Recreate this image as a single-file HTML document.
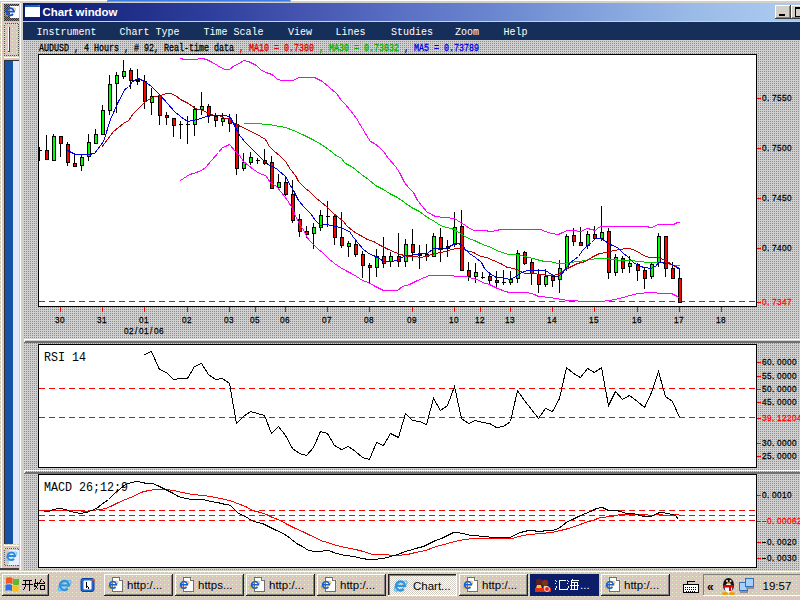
<!DOCTYPE html>
<html><head><meta charset="utf-8"><title>Chart window</title>
<style>
html,body{margin:0;padding:0;width:800px;height:600px;overflow:hidden;background:#c0c0c0}
svg{display:block}
</style></head><body>
<svg width="800" height="600" viewBox="0 0 800 600" shape-rendering="crispEdges" font-family="Liberation Mono, monospace">
<defs>
<pattern id="dg" width="2" height="2" patternUnits="userSpaceOnUse"><rect width="2" height="2" fill="#d0d0d0"/><rect x="0" y="1" width="1" height="1" fill="#8c8c8c"/></pattern>
<pattern id="tb" width="4" height="4" patternUnits="userSpaceOnUse"><rect width="4" height="4" fill="#cdcbc6"/><rect x="0" y="0" width="1" height="1" fill="#f4f0c0"/><rect x="2" y="2" width="1" height="1" fill="#f0c8c8"/></pattern>
<pattern id="pz" width="2" height="2" patternUnits="userSpaceOnUse"><rect width="2" height="2" fill="#ffffff"/><rect x="0" y="0" width="1" height="1" fill="#d4d0c8"/><rect x="1" y="1" width="1" height="1" fill="#d4d0c8"/></pattern>
<pattern id="ck" width="2" height="2" patternUnits="userSpaceOnUse"><rect width="2" height="2" fill="#808080"/><rect x="0" y="0" width="1" height="1" fill="#303030"/><rect x="1" y="1" width="1" height="1" fill="#303030"/></pattern>
<linearGradient id="tg" x1="23" y1="0" x2="775" y2="0" gradientUnits="userSpaceOnUse"><stop offset="0.0000" stop-color="#0a1a6c"/><stop offset="0.1024" stop-color="#1a2a80"/><stop offset="0.2354" stop-color="#2c3c9a"/><stop offset="0.3684" stop-color="#4454b0"/><stop offset="0.5013" stop-color="#5a70c4"/><stop offset="0.6343" stop-color="#6c88d0"/><stop offset="0.7673" stop-color="#84a2dc"/><stop offset="0.9003" stop-color="#9cbce8"/><stop offset="1.0000" stop-color="#a8c8f0"/></linearGradient>
</defs>

<rect x="0" y="0" width="800" height="600" fill="#d2d0c8"/>
<rect x="0" y="0" width="107" height="1" fill="#ffffff"/>
<rect x="0" y="0" width="20" height="570" fill="url(#tb)"/>
<rect x="0" y="0" width="20" height="1" fill="#ffffff"/>
<rect x="2" y="2" width="18" height="1" fill="#ffffff"/><rect x="1" y="2" width="1" height="566" fill="#ffffff"/>
<rect x="4" y="4" width="15" height="17" fill="url(#ck)"/>
<rect x="10" y="6" width="9" height="12" fill="#ffffff"/>
<g transform="translate(4.5,5.5) scale(0.75)" shape-rendering="auto"><ellipse cx="8" cy="8.5" rx="8" ry="3.2" transform="rotate(-35 8 8.5)" fill="none" stroke="#f0c020" stroke-width="1.2"/><path d="M3.2 8.2 H12.6 A4.8 4.8 0 1 0 11.4 11.6" fill="none" stroke="#1a50d0" stroke-width="2.4"/></g>
<rect x="4.5" y="23.5" width="14" height="32" fill="none" stroke="#505050" stroke-width="1" stroke-dasharray="1,1"/>
<rect x="8" y="27" width="1" height="25" fill="#ffffff"/><rect x="9" y="27" width="1" height="25" fill="#404040"/><rect x="8" y="51" width="2" height="1" fill="#404040"/>
<rect x="4" y="57" width="15" height="1" fill="#ffffff"/>
<rect x="5" y="61" width="14" height="483" fill="#e2e8fc"/>
<rect x="5" y="61" width="8" height="483" fill="#1652a6"/>
<rect x="4" y="60" width="15" height="1" fill="#303030"/><rect x="4" y="60" width="1" height="484" fill="#303030"/>
<rect x="4" y="545" width="15" height="1" fill="#ffffff"/>
<rect x="4.5" y="548.5" width="14" height="17" fill="none" stroke="#606060" stroke-dasharray="1,1"/>
<rect x="9" y="550" width="10" height="15" fill="#e8f0ff"/>
<g transform="translate(5,549.5) scale(0.8)" shape-rendering="auto"><ellipse cx="8" cy="8.5" rx="8" ry="3.2" transform="rotate(-35 8 8.5)" fill="none" stroke="#70c0f0" stroke-width="1.2"/><path d="M3.2 8.2 H12.6 A4.8 4.8 0 1 0 11.4 11.6" fill="none" stroke="#2a8ae0" stroke-width="2.4"/></g>
<rect x="0" y="568" width="19" height="2" fill="#404040"/>
<rect x="20" y="0" width="780" height="570" fill="#d4d0c8"/>
<rect x="20" y="0" width="780" height="1" fill="#ffffff"/>
<path d="M107 2 V1 Q107 0 109 0 H289 Q291 0 291 1 V2 Z" fill="#3a7ee6" shape-rendering="auto"/>
<rect x="108" y="1" width="183" height="1" fill="#5aa8f4"/>
<rect x="20" y="3" width="1" height="567" fill="#ffffff"/>
<rect x="23" y="22" width="777" height="548" fill="url(#dg)"/>
<rect x="23" y="3" width="777" height="18" fill="url(#tg)"/>
<rect x="23" y="21" width="777" height="1" fill="#d4d0c8"/>
<rect x="25" y="5" width="15" height="12" fill="#ffffff"/><rect x="25" y="5" width="15" height="2" fill="#2060c0"/><rect x="38" y="5" width="2" height="1" fill="#e06020"/>
<text x="42.5" y="16" font-family="Liberation Sans" font-weight="bold" font-size="11.5" fill="#ffffff" textLength="75" lengthAdjust="spacingAndGlyphs">Chart window</text>
<rect x="775" y="5" width="16" height="14" fill="#d4d0c8"/><rect x="775" y="5" width="15" height="1" fill="#ffffff"/><rect x="775" y="5" width="1" height="13" fill="#ffffff"/><rect x="775" y="18" width="16" height="1" fill="#404040"/><rect x="790" y="5" width="1" height="14" fill="#404040"/><rect x="776" y="17" width="14" height="1" fill="#808080"/><rect x="789" y="6" width="1" height="12" fill="#808080"/><rect x="779" y="14" width="6" height="2" fill="#000"/>
<rect x="791" y="5" width="16" height="14" fill="#d4d0c8"/><rect x="791" y="5" width="15" height="1" fill="#ffffff"/><rect x="791" y="5" width="1" height="13" fill="#ffffff"/><rect x="791" y="18" width="16" height="1" fill="#404040"/><rect x="806" y="5" width="1" height="14" fill="#404040"/><rect x="792" y="17" width="14" height="1" fill="#808080"/><rect x="805" y="6" width="1" height="12" fill="#808080"/><rect x="795" y="7" width="9" height="9" fill="none" stroke="#000" stroke-width="1"/><rect x="795" y="7" width="9" height="2" fill="#000"/>
<rect x="23" y="22" width="777" height="18" fill="#162f5a"/>
<text x="36.5" y="35" font-size="10.5" fill="#ffffff" textLength="60" lengthAdjust="spacingAndGlyphs">Instrument</text>
<text x="119.5" y="35" font-size="10.5" fill="#ffffff" textLength="60" lengthAdjust="spacingAndGlyphs">Chart Type</text>
<text x="203.5" y="35" font-size="10.5" fill="#ffffff" textLength="60" lengthAdjust="spacingAndGlyphs">Time Scale</text>
<text x="288.0" y="35" font-size="10.5" fill="#ffffff" textLength="24" lengthAdjust="spacingAndGlyphs">View</text>
<text x="335.5" y="35" font-size="10.5" fill="#ffffff" textLength="30" lengthAdjust="spacingAndGlyphs">Lines</text>
<text x="391.0" y="35" font-size="10.5" fill="#ffffff" textLength="42" lengthAdjust="spacingAndGlyphs">Studies</text>
<text x="455.0" y="35" font-size="10.5" fill="#ffffff" textLength="24" lengthAdjust="spacingAndGlyphs">Zoom</text>
<text x="503.5" y="35" font-size="10.5" fill="#ffffff" textLength="24" lengthAdjust="spacingAndGlyphs">Help</text>
<text x="39.0" y="50.5" font-size="10.5" fill="#000000" textLength="195" lengthAdjust="spacingAndGlyphs" stroke="#000000" stroke-width="0.3">AUDUSD , 4 Hours , # 92, Real-time data</text>
<text x="234.0" y="50.5" font-size="10.5" fill="#e00000" textLength="80" lengthAdjust="spacingAndGlyphs" stroke="#e00000" stroke-width="0.3"> , MA10 = 0.7380</text>
<text x="314.0" y="50.5" font-size="10.5" fill="#00b000" textLength="85" lengthAdjust="spacingAndGlyphs" stroke="#00b000" stroke-width="0.3"> , MA30 = 0.73832</text>
<text x="399.0" y="50.5" font-size="10.5" fill="#0000e0" textLength="80" lengthAdjust="spacingAndGlyphs" stroke="#0000e0" stroke-width="0.3"> , MA5 = 0.73789</text>
<rect x="38.5" y="54.5" width="718" height="252" fill="#ffffff" stroke="#000000" stroke-width="1"/>
<rect x="38.5" y="344.5" width="718" height="123" fill="#ffffff" stroke="#000000" stroke-width="1"/>
<rect x="38.5" y="474.5" width="718" height="93" fill="#ffffff" stroke="#000000" stroke-width="1"/>
<rect x="24" y="339" width="776" height="1" fill="#ffffff"/>
<rect x="24" y="341" width="776" height="2" fill="#707070"/>
<rect x="24" y="339" width="1" height="3" fill="#ffffff"/>
<rect x="24" y="470" width="776" height="1" fill="#ffffff"/>
<rect x="24" y="472" width="776" height="2" fill="#707070"/>
<rect x="24" y="470" width="1" height="3" fill="#ffffff"/>
<line x1="39" y1="301.5" x2="756" y2="301.5" stroke="#ff0000" stroke-width="1" stroke-dasharray="6,4"/>
<line x1="39" y1="388.5" x2="756" y2="388.5" stroke="#ff0000" stroke-width="1" stroke-dasharray="6,4"/>
<line x1="39" y1="417.5" x2="756" y2="417.5" stroke="#ff0000" stroke-width="1" stroke-dasharray="6,4"/>
<line x1="39" y1="510.5" x2="756" y2="510.5" stroke="#ff0000" stroke-width="1" stroke-dasharray="6,4"/>
<line x1="39" y1="515.5" x2="756" y2="515.5" stroke="#ff0000" stroke-width="1" stroke-dasharray="6,4"/>
<line x1="39" y1="520.5" x2="756" y2="520.5" stroke="#ff0000" stroke-width="1" stroke-dasharray="6,4"/>
<clipPath id="cp1"><rect x="39" y="55" width="717" height="251"/></clipPath>
<g clip-path="url(#cp1)">
<rect x="39" y="147" width="1" height="14" fill="#000"/><rect x="39" y="150" width="3" height="1" fill="#000"/>
<rect x="46" y="135" width="1" height="25" fill="#000"/>
<rect x="45" y="150" width="4" height="10" fill="#000"/>
<rect x="46" y="151" width="2" height="8" fill="#ff0000"/>
<rect x="53" y="134" width="1" height="27" fill="#000"/>
<rect x="52" y="136" width="4" height="25" fill="#000"/>
<rect x="53" y="137" width="2" height="23" fill="#00ff00"/>
<rect x="60" y="136" width="1" height="21" fill="#000"/>
<rect x="59" y="136" width="4" height="8" fill="#000"/>
<rect x="60" y="137" width="2" height="6" fill="#ff0000"/>
<rect x="67" y="142" width="1" height="24" fill="#000"/>
<rect x="66" y="144" width="4" height="19" fill="#000"/>
<rect x="67" y="145" width="2" height="17" fill="#ff0000"/>
<rect x="74" y="154" width="1" height="13" fill="#000"/>
<rect x="73" y="163" width="4" height="4" fill="#000"/>
<rect x="74" y="164" width="2" height="2" fill="#ff0000"/>
<rect x="81" y="155" width="1" height="16" fill="#000"/>
<rect x="80" y="157" width="4" height="9" fill="#000"/>
<rect x="81" y="158" width="2" height="7" fill="#00ff00"/>
<rect x="88" y="134" width="1" height="27" fill="#000"/>
<rect x="87" y="142" width="4" height="15" fill="#000"/>
<rect x="88" y="143" width="2" height="13" fill="#00ff00"/>
<rect x="95" y="129" width="1" height="15" fill="#000"/>
<rect x="94" y="134" width="4" height="10" fill="#000"/>
<rect x="95" y="135" width="2" height="8" fill="#00ff00"/>
<rect x="102" y="105" width="1" height="30" fill="#000"/>
<rect x="101" y="110" width="4" height="25" fill="#000"/>
<rect x="102" y="111" width="2" height="23" fill="#00ff00"/>
<rect x="109" y="75" width="1" height="40" fill="#000"/>
<rect x="108" y="84" width="4" height="27" fill="#000"/>
<rect x="109" y="85" width="2" height="25" fill="#00ff00"/>
<rect x="116" y="72" width="1" height="41" fill="#000"/>
<rect x="115" y="75" width="4" height="9" fill="#000"/>
<rect x="116" y="76" width="2" height="7" fill="#00ff00"/>
<rect x="123" y="60" width="1" height="19" fill="#000"/>
<rect x="122" y="71" width="4" height="6" fill="#000"/>
<rect x="123" y="72" width="2" height="4" fill="#00ff00"/>
<rect x="130" y="68" width="1" height="21" fill="#000"/>
<rect x="129" y="70" width="4" height="11" fill="#000"/>
<rect x="130" y="71" width="2" height="9" fill="#ff0000"/>
<rect x="137" y="69" width="1" height="16" fill="#000"/>
<rect x="136" y="79" width="4" height="1" fill="#000"/>
<rect x="136" y="79" width="4" height="3" fill="#000"/>
<rect x="144" y="75" width="1" height="34" fill="#000"/>
<rect x="143" y="81" width="4" height="21" fill="#000"/>
<rect x="144" y="82" width="2" height="19" fill="#ff0000"/>
<rect x="151" y="88" width="1" height="27" fill="#000"/>
<rect x="150" y="96" width="4" height="7" fill="#000"/>
<rect x="151" y="97" width="2" height="5" fill="#00ff00"/>
<rect x="159" y="94" width="1" height="31" fill="#000"/>
<rect x="158" y="95" width="4" height="21" fill="#000"/>
<rect x="159" y="96" width="2" height="19" fill="#ff0000"/>
<rect x="166" y="112" width="1" height="13" fill="#000"/>
<rect x="165" y="115" width="4" height="3" fill="#000"/>
<rect x="166" y="116" width="2" height="1" fill="#ff0000"/>
<rect x="173" y="118" width="1" height="19" fill="#000"/>
<rect x="172" y="118" width="4" height="8" fill="#000"/>
<rect x="173" y="119" width="2" height="6" fill="#ff0000"/>
<rect x="180" y="121" width="1" height="18" fill="#000"/>
<rect x="179" y="124" width="4" height="1" fill="#000"/>
<rect x="187" y="116" width="1" height="28" fill="#000"/>
<rect x="186" y="124" width="4" height="1" fill="#000"/>
<rect x="194" y="106" width="1" height="30" fill="#000"/>
<rect x="193" y="109" width="4" height="16" fill="#000"/>
<rect x="194" y="110" width="2" height="14" fill="#00ff00"/>
<rect x="201" y="92" width="1" height="23" fill="#000"/>
<rect x="200" y="106" width="4" height="4" fill="#000"/>
<rect x="201" y="107" width="2" height="2" fill="#00ff00"/>
<rect x="208" y="104" width="1" height="19" fill="#000"/>
<rect x="207" y="106" width="4" height="10" fill="#000"/>
<rect x="208" y="107" width="2" height="8" fill="#ff0000"/>
<rect x="215" y="113" width="1" height="14" fill="#000"/>
<rect x="214" y="116" width="4" height="5" fill="#000"/>
<rect x="215" y="117" width="2" height="3" fill="#ff0000"/>
<rect x="222" y="113" width="1" height="13" fill="#000"/>
<rect x="221" y="118" width="4" height="4" fill="#000"/>
<rect x="222" y="119" width="2" height="2" fill="#00ff00"/>
<rect x="229" y="114" width="1" height="18" fill="#000"/>
<rect x="228" y="118" width="4" height="6" fill="#000"/>
<rect x="229" y="119" width="2" height="4" fill="#ff0000"/>
<rect x="236" y="114" width="1" height="61" fill="#000"/>
<rect x="235" y="124" width="4" height="45" fill="#000"/>
<rect x="236" y="125" width="2" height="43" fill="#ff0000"/>
<rect x="243" y="153" width="1" height="18" fill="#000"/>
<rect x="242" y="162" width="4" height="7" fill="#000"/>
<rect x="243" y="163" width="2" height="5" fill="#00ff00"/>
<rect x="250" y="152" width="1" height="13" fill="#000"/>
<rect x="249" y="157" width="4" height="6" fill="#000"/>
<rect x="250" y="158" width="2" height="4" fill="#00ff00"/>
<rect x="257" y="158" width="1" height="6" fill="#000"/>
<rect x="256" y="160" width="4" height="1" fill="#000"/>
<rect x="264" y="149" width="1" height="16" fill="#000"/>
<rect x="263" y="160" width="4" height="4" fill="#000"/>
<rect x="264" y="161" width="2" height="2" fill="#ff0000"/>
<rect x="271" y="156" width="1" height="33" fill="#000"/>
<rect x="270" y="162" width="4" height="27" fill="#000"/>
<rect x="271" y="163" width="2" height="25" fill="#ff0000"/>
<rect x="278" y="174" width="1" height="15" fill="#000"/>
<rect x="277" y="182" width="4" height="6" fill="#000"/>
<rect x="278" y="183" width="2" height="4" fill="#00ff00"/>
<rect x="285" y="176" width="1" height="20" fill="#000"/>
<rect x="284" y="182" width="4" height="13" fill="#000"/>
<rect x="285" y="183" width="2" height="11" fill="#ff0000"/>
<rect x="292" y="180" width="1" height="43" fill="#000"/>
<rect x="291" y="194" width="4" height="27" fill="#000"/>
<rect x="292" y="195" width="2" height="25" fill="#ff0000"/>
<rect x="299" y="214" width="1" height="23" fill="#000"/>
<rect x="298" y="219" width="4" height="13" fill="#000"/>
<rect x="299" y="220" width="2" height="11" fill="#ff0000"/>
<rect x="306" y="226" width="1" height="12" fill="#000"/>
<rect x="305" y="231" width="4" height="4" fill="#000"/>
<rect x="306" y="232" width="2" height="2" fill="#ff0000"/>
<rect x="313" y="223" width="1" height="26" fill="#000"/>
<rect x="312" y="227" width="4" height="7" fill="#000"/>
<rect x="313" y="228" width="2" height="5" fill="#00ff00"/>
<rect x="320" y="210" width="1" height="21" fill="#000"/>
<rect x="319" y="215" width="4" height="13" fill="#000"/>
<rect x="320" y="216" width="2" height="11" fill="#00ff00"/>
<rect x="327" y="201" width="1" height="26" fill="#000"/>
<rect x="326" y="216" width="4" height="1" fill="#000"/>
<rect x="334" y="215" width="1" height="30" fill="#000"/>
<rect x="333" y="216" width="4" height="22" fill="#000"/>
<rect x="334" y="217" width="2" height="20" fill="#ff0000"/>
<rect x="341" y="212" width="1" height="36" fill="#000"/>
<rect x="340" y="237" width="4" height="9" fill="#000"/>
<rect x="341" y="238" width="2" height="7" fill="#ff0000"/>
<rect x="348" y="241" width="1" height="16" fill="#000"/>
<rect x="347" y="243" width="4" height="4" fill="#000"/>
<rect x="348" y="244" width="2" height="2" fill="#00ff00"/>
<rect x="355" y="241" width="1" height="16" fill="#000"/>
<rect x="354" y="244" width="4" height="11" fill="#000"/>
<rect x="355" y="245" width="2" height="9" fill="#ff0000"/>
<rect x="362" y="251" width="1" height="27" fill="#000"/>
<rect x="361" y="254" width="4" height="12" fill="#000"/>
<rect x="362" y="255" width="2" height="10" fill="#ff0000"/>
<rect x="369" y="263" width="1" height="20" fill="#000"/>
<rect x="368" y="265" width="4" height="3" fill="#000"/>
<rect x="369" y="266" width="2" height="1" fill="#ff0000"/>
<rect x="376" y="249" width="1" height="28" fill="#000"/>
<rect x="375" y="256" width="4" height="12" fill="#000"/>
<rect x="376" y="257" width="2" height="10" fill="#00ff00"/>
<rect x="383" y="237" width="1" height="31" fill="#000"/>
<rect x="382" y="256" width="4" height="8" fill="#000"/>
<rect x="383" y="257" width="2" height="6" fill="#ff0000"/>
<rect x="390" y="252" width="1" height="15" fill="#000"/>
<rect x="389" y="256" width="4" height="6" fill="#000"/>
<rect x="390" y="257" width="2" height="4" fill="#00ff00"/>
<rect x="398" y="233" width="1" height="34" fill="#000"/>
<rect x="397" y="256" width="4" height="6" fill="#000"/>
<rect x="398" y="257" width="2" height="4" fill="#ff0000"/>
<rect x="405" y="239" width="1" height="28" fill="#000"/>
<rect x="404" y="244" width="4" height="18" fill="#000"/>
<rect x="405" y="245" width="2" height="16" fill="#00ff00"/>
<rect x="412" y="229" width="1" height="32" fill="#000"/>
<rect x="411" y="244" width="4" height="9" fill="#000"/>
<rect x="412" y="245" width="2" height="7" fill="#ff0000"/>
<rect x="419" y="245" width="1" height="24" fill="#000"/>
<rect x="418" y="253" width="4" height="1" fill="#000"/>
<rect x="418" y="253" width="4" height="3" fill="#000"/>
<rect x="426" y="244" width="1" height="17" fill="#000"/>
<rect x="425" y="254" width="4" height="3" fill="#000"/>
<rect x="426" y="255" width="2" height="1" fill="#ff0000"/>
<rect x="433" y="233" width="1" height="24" fill="#000"/>
<rect x="432" y="236" width="4" height="21" fill="#000"/>
<rect x="433" y="237" width="2" height="19" fill="#00ff00"/>
<rect x="440" y="228" width="1" height="34" fill="#000"/>
<rect x="439" y="237" width="4" height="12" fill="#000"/>
<rect x="440" y="238" width="2" height="10" fill="#ff0000"/>
<rect x="447" y="240" width="1" height="17" fill="#000"/>
<rect x="446" y="246" width="4" height="3" fill="#000"/>
<rect x="447" y="247" width="2" height="1" fill="#00ff00"/>
<rect x="454" y="212" width="1" height="35" fill="#000"/>
<rect x="453" y="227" width="4" height="18" fill="#000"/>
<rect x="454" y="228" width="2" height="16" fill="#00ff00"/>
<rect x="461" y="210" width="1" height="61" fill="#000"/>
<rect x="460" y="226" width="4" height="45" fill="#000"/>
<rect x="461" y="227" width="2" height="43" fill="#ff0000"/>
<rect x="468" y="262" width="1" height="19" fill="#000"/>
<rect x="467" y="270" width="4" height="7" fill="#000"/>
<rect x="468" y="271" width="2" height="5" fill="#ff0000"/>
<rect x="475" y="263" width="1" height="20" fill="#000"/>
<rect x="474" y="272" width="4" height="5" fill="#000"/>
<rect x="475" y="273" width="2" height="3" fill="#00ff00"/>
<rect x="482" y="272" width="1" height="7" fill="#000"/>
<rect x="481" y="277" width="4" height="1" fill="#000"/>
<rect x="489" y="272" width="1" height="13" fill="#000"/>
<rect x="488" y="276" width="4" height="5" fill="#000"/>
<rect x="489" y="277" width="2" height="3" fill="#ff0000"/>
<rect x="496" y="271" width="1" height="18" fill="#000"/>
<rect x="495" y="280" width="4" height="3" fill="#000"/>
<rect x="496" y="281" width="2" height="1" fill="#ff0000"/>
<rect x="503" y="270" width="1" height="15" fill="#000"/>
<rect x="502" y="282" width="4" height="1" fill="#000"/>
<rect x="510" y="271" width="1" height="14" fill="#000"/>
<rect x="509" y="279" width="4" height="4" fill="#000"/>
<rect x="510" y="280" width="2" height="2" fill="#00ff00"/>
<rect x="517" y="250" width="1" height="33" fill="#000"/>
<rect x="516" y="253" width="4" height="26" fill="#000"/>
<rect x="517" y="254" width="2" height="24" fill="#00ff00"/>
<rect x="524" y="251" width="1" height="14" fill="#000"/>
<rect x="523" y="252" width="4" height="12" fill="#000"/>
<rect x="524" y="253" width="2" height="10" fill="#ff0000"/>
<rect x="531" y="258" width="1" height="27" fill="#000"/>
<rect x="530" y="262" width="4" height="12" fill="#000"/>
<rect x="531" y="263" width="2" height="10" fill="#ff0000"/>
<rect x="538" y="269" width="1" height="24" fill="#000"/>
<rect x="537" y="274" width="4" height="11" fill="#000"/>
<rect x="538" y="275" width="2" height="9" fill="#ff0000"/>
<rect x="545" y="269" width="1" height="18" fill="#000"/>
<rect x="544" y="276" width="4" height="9" fill="#000"/>
<rect x="545" y="277" width="2" height="7" fill="#00ff00"/>
<rect x="552" y="274" width="1" height="13" fill="#000"/>
<rect x="551" y="276" width="4" height="5" fill="#000"/>
<rect x="552" y="277" width="2" height="3" fill="#ff0000"/>
<rect x="559" y="260" width="1" height="33" fill="#000"/>
<rect x="558" y="268" width="4" height="12" fill="#000"/>
<rect x="559" y="269" width="2" height="10" fill="#00ff00"/>
<rect x="566" y="234" width="1" height="37" fill="#000"/>
<rect x="565" y="236" width="4" height="33" fill="#000"/>
<rect x="566" y="237" width="2" height="31" fill="#00ff00"/>
<rect x="573" y="228" width="1" height="18" fill="#000"/>
<rect x="572" y="235" width="4" height="7" fill="#000"/>
<rect x="573" y="236" width="2" height="5" fill="#ff0000"/>
<rect x="580" y="227" width="1" height="19" fill="#000"/>
<rect x="579" y="242" width="4" height="4" fill="#000"/>
<rect x="580" y="243" width="2" height="2" fill="#ff0000"/>
<rect x="587" y="231" width="1" height="18" fill="#000"/>
<rect x="586" y="234" width="4" height="12" fill="#000"/>
<rect x="587" y="235" width="2" height="10" fill="#00ff00"/>
<rect x="594" y="226" width="1" height="13" fill="#000"/>
<rect x="593" y="234" width="4" height="5" fill="#000"/>
<rect x="594" y="235" width="2" height="3" fill="#ff0000"/>
<rect x="601" y="206" width="1" height="35" fill="#000"/>
<rect x="600" y="232" width="4" height="7" fill="#000"/>
<rect x="601" y="233" width="2" height="5" fill="#00ff00"/>
<rect x="608" y="228" width="1" height="51" fill="#000"/>
<rect x="607" y="231" width="4" height="42" fill="#000"/>
<rect x="608" y="232" width="2" height="40" fill="#ff0000"/>
<rect x="615" y="254" width="1" height="22" fill="#000"/>
<rect x="614" y="257" width="4" height="16" fill="#000"/>
<rect x="615" y="258" width="2" height="14" fill="#00ff00"/>
<rect x="622" y="256" width="1" height="17" fill="#000"/>
<rect x="621" y="258" width="4" height="11" fill="#000"/>
<rect x="622" y="259" width="2" height="9" fill="#ff0000"/>
<rect x="629" y="256" width="1" height="17" fill="#000"/>
<rect x="628" y="263" width="4" height="4" fill="#000"/>
<rect x="629" y="264" width="2" height="2" fill="#00ff00"/>
<rect x="637" y="263" width="1" height="18" fill="#000"/>
<rect x="636" y="264" width="4" height="7" fill="#000"/>
<rect x="637" y="265" width="2" height="5" fill="#ff0000"/>
<rect x="644" y="268" width="1" height="21" fill="#000"/>
<rect x="643" y="270" width="4" height="9" fill="#000"/>
<rect x="644" y="271" width="2" height="7" fill="#ff0000"/>
<rect x="651" y="262" width="1" height="17" fill="#000"/>
<rect x="650" y="264" width="4" height="13" fill="#000"/>
<rect x="651" y="265" width="2" height="11" fill="#00ff00"/>
<rect x="658" y="233" width="1" height="34" fill="#000"/>
<rect x="657" y="236" width="4" height="27" fill="#000"/>
<rect x="658" y="237" width="2" height="25" fill="#00ff00"/>
<rect x="665" y="236" width="1" height="41" fill="#000"/>
<rect x="664" y="236" width="4" height="33" fill="#000"/>
<rect x="665" y="237" width="2" height="31" fill="#ff0000"/>
<rect x="672" y="262" width="1" height="17" fill="#000"/>
<rect x="671" y="268" width="4" height="11" fill="#000"/>
<rect x="672" y="269" width="2" height="9" fill="#ff0000"/>
<rect x="679" y="268" width="1" height="35" fill="#000"/>
<rect x="678" y="278" width="4" height="25" fill="#000"/>
<rect x="679" y="279" width="2" height="23" fill="#ff0000"/>
</g>
<g clip-path="url(#cp1)" fill="none" stroke-width="1">
<polyline points="180.5,58.5 184.5,59.5 197.5,59.5 198.5,58.5 202.5,58.5 206.5,59.5 212.5,62.5 217.5,65.5 222.5,68.5 225.5,69.5 229.5,69.5 234.5,65.5 239.5,63.5 243.5,60.5 248.5,61.5 256.5,65.5 260.5,69.5 265.5,72.5 269.5,73.5 273.5,75.5 277.5,79.5 282.5,80.5 293.5,80.5 298.5,77.5 314.5,77.5 322.5,81.5 329.5,87.5 336.5,93.5 341.5,100.5 344.5,103.5 350.5,110.5 356.5,118.5 362.5,128.5 368.5,138.5 370.5,141.5 374.5,143.5 379.5,147.5 383.5,151.5 388.5,158.5 395.5,166.5 399.5,172.5 404.5,182.5 408.5,187.5 413.5,192.5 417.5,200.5 422.5,206.5 426.5,211.5 431.5,214.5 435.5,216.5 444.5,217.5 454.5,218.5 457.5,220.5 460.5,222.5 465.5,225.5 469.5,228.5 474.5,230.5 485.5,230.5 489.5,231.5 491.5,231.5 496.5,230.5 500.5,229.5 540.5,229.5 545.5,231.5 551.5,233.5 558.5,234.5 562.5,232.5 567.5,230.5 572.5,230.5 580.5,231.5 587.5,228.5 591.5,229.5 595.5,230.5 598.5,227.5 601.5,226.5 647.5,226.5 649.5,227.5 652.5,227.5 657.5,224.5 673.5,224.5 677.5,222.5 679.5,222.5" stroke="#ff00ff"/>
<polyline points="180.5,180.5 186.5,176.5 189.5,174.5 193.5,173.5 201.5,170.5 205.5,167.5 211.5,160.5 218.5,152.5 222.5,147.5 225.5,146.5 229.5,144.5 230.5,145.5 234.5,150.5 239.5,155.5 243.5,161.5 248.5,165.5 253.5,169.5 259.5,173.5 265.5,175.5 270.5,182.5 276.5,186.5 281.5,192.5 287.5,200.5 292.5,208.5 296.5,218.5 300.5,225.5 304.5,231.5 306.5,236.5 309.5,240.5 313.5,244.5 317.5,248.5 323.5,253.5 328.5,258.5 334.5,263.5 340.5,267.5 345.5,270.5 351.5,273.5 356.5,276.5 362.5,280.5 368.5,282.5 373.5,285.5 379.5,288.5 383.5,290.5 388.5,290.5 397.5,290.5 402.5,286.5 409.5,284.5 417.5,280.5 424.5,277.5 429.5,275.5 435.5,275.5 440.5,275.5 466.5,276.5 472.5,278.5 477.5,279.5 482.5,282.5 489.5,284.5 497.5,288.5 505.5,291.5 509.5,292.5 527.5,292.5 534.5,294.5 538.5,296.5 550.5,297.5 555.5,298.5 568.5,300.5 586.5,301.5 601.5,301.5 615.5,299.5 626.5,296.5 637.5,293.5 650.5,292.5 662.5,293.5 671.5,293.5 677.5,296.5 679.5,298.5" stroke="#ff00ff"/>
<polyline points="243.5,123.5 260.5,123.5 263.5,124.5 268.5,124.5 274.5,125.5 285.5,127.5 293.5,130.5 302.5,134.5 312.5,139.5 321.5,144.5 328.5,149.5 337.5,156.5 340.5,157.5 345.5,163.5 351.5,166.5 355.5,169.5 361.5,174.5 368.5,179.5 375.5,185.5 383.5,189.5 389.5,193.5 397.5,197.5 404.5,202.5 411.5,207.5 419.5,211.5 427.5,217.5 434.5,221.5 440.5,225.5 446.5,227.5 451.5,228.5 457.5,231.5 463.5,235.5 468.5,238.5 474.5,240.5 480.5,243.5 485.5,245.5 491.5,247.5 496.5,250.5 502.5,252.5 508.5,254.5 516.5,254.5 520.5,255.5 529.5,257.5 536.5,259.5 544.5,261.5 549.5,261.5 558.5,263.5 562.5,263.5 569.5,262.5 579.5,261.5 589.5,259.5 598.5,258.5 606.5,258.5 613.5,259.5 622.5,260.5 631.5,260.5 637.5,261.5 649.5,262.5 658.5,262.5 667.5,263.5 673.5,265.5 679.5,265.5" stroke="#00c800"/>
<polyline points="101.5,147.5 113.5,131.5 123.5,123.5 128.5,120.5 133.5,113.5 139.5,107.5 144.5,102.5 150.5,98.5 155.5,96.5 160.5,95.5 166.5,93.5 170.5,93.5 175.5,95.5 180.5,99.5 188.5,103.5 195.5,108.5 202.5,110.5 209.5,113.5 214.5,115.5 218.5,115.5 225.5,118.5 230.5,118.5 233.5,122.5 236.5,124.5 240.5,126.5 245.5,128.5 250.5,131.5 255.5,133.5 260.5,136.5 265.5,139.5 269.5,146.5 274.5,151.5 279.5,155.5 285.5,161.5 290.5,169.5 295.5,175.5 298.5,181.5 304.5,187.5 310.5,192.5 315.5,197.5 321.5,202.5 326.5,206.5 332.5,212.5 338.5,217.5 343.5,221.5 346.5,225.5 353.5,231.5 360.5,235.5 367.5,239.5 373.5,241.5 380.5,245.5 388.5,249.5 395.5,252.5 400.5,254.5 408.5,256.5 415.5,256.5 420.5,257.5 426.5,256.5 431.5,254.5 435.5,253.5 440.5,252.5 446.5,251.5 451.5,249.5 456.5,248.5 460.5,248.5 466.5,250.5 473.5,252.5 480.5,256.5 486.5,257.5 493.5,260.5 500.5,263.5 507.5,267.5 513.5,268.5 519.5,270.5 524.5,273.5 532.5,273.5 540.5,274.5 551.5,275.5 558.5,274.5 563.5,270.5 569.5,267.5 577.5,263.5 585.5,261.5 591.5,257.5 599.5,253.5 606.5,252.5 613.5,250.5 620.5,249.5 625.5,248.5 629.5,248.5 632.5,249.5 637.5,251.5 643.5,255.5 649.5,257.5 658.5,257.5 663.5,259.5 667.5,261.5 672.5,265.5 676.5,266.5 679.5,268.5" stroke="#c00000"/>
<polyline points="67.5,150.5 75.5,154.5 88.5,154.5 94.5,153.5 103.5,141.5 110.5,119.5 118.5,101.5 125.5,88.5 128.5,87.5 132.5,81.5 138.5,78.5 144.5,81.5 151.5,86.5 160.5,95.5 167.5,103.5 174.5,111.5 180.5,116.5 187.5,121.5 192.5,120.5 197.5,119.5 206.5,116.5 213.5,115.5 218.5,115.5 225.5,115.5 230.5,117.5 233.5,123.5 236.5,129.5 240.5,136.5 245.5,142.5 250.5,147.5 255.5,152.5 260.5,157.5 265.5,162.5 269.5,165.5 276.5,168.5 278.5,170.5 285.5,176.5 290.5,185.5 294.5,192.5 298.5,200.5 304.5,207.5 310.5,213.5 315.5,220.5 320.5,225.5 325.5,224.5 331.5,225.5 336.5,226.5 342.5,228.5 349.5,231.5 353.5,237.5 358.5,243.5 362.5,248.5 368.5,253.5 373.5,255.5 379.5,258.5 383.5,261.5 390.5,261.5 397.5,260.5 400.5,258.5 405.5,255.5 410.5,255.5 415.5,254.5 422.5,253.5 427.5,253.5 433.5,248.5 436.5,248.5 440.5,249.5 446.5,248.5 451.5,245.5 455.5,243.5 458.5,243.5 462.5,245.5 465.5,249.5 469.5,253.5 475.5,257.5 481.5,262.5 484.5,268.5 489.5,273.5 496.5,277.5 502.5,277.5 509.5,279.5 514.5,277.5 518.5,274.5 521.5,272.5 527.5,270.5 534.5,270.5 545.5,270.5 551.5,274.5 556.5,276.5 561.5,274.5 564.5,270.5 570.5,262.5 578.5,256.5 582.5,250.5 587.5,245.5 591.5,242.5 595.5,238.5 600.5,238.5 604.5,240.5 609.5,244.5 613.5,245.5 618.5,248.5 622.5,252.5 628.5,257.5 633.5,262.5 639.5,266.5 645.5,267.5 650.5,268.5 655.5,266.5 658.5,262.5 661.5,262.5 665.5,263.5 669.5,263.5 674.5,265.5 679.5,269.5" stroke="#0000e8"/>
</g>
<polyline points="144.5,354.5 151.5,351.5 159.5,369.5 166.5,372.5 173.5,379.5 180.5,378.5 187.5,378.5 194.5,366.5 201.5,363.5 208.5,374.5 215.5,379.5 222.5,378.5 229.5,383.5 236.5,423.5 243.5,416.5 250.5,411.5 257.5,413.5 264.5,415.5 271.5,433.5 278.5,426.5 285.5,435.5 292.5,448.5 299.5,453.5 306.5,455.5 313.5,447.5 320.5,431.5 327.5,433.5 334.5,445.5 341.5,449.5 348.5,446.5 355.5,451.5 362.5,457.5 369.5,459.5 376.5,442.5 383.5,445.5 390.5,433.5 398.5,437.5 405.5,413.5 412.5,420.5 419.5,421.5 426.5,424.5 433.5,398.5 440.5,410.5 447.5,405.5 454.5,386.5 461.5,418.5 468.5,423.5 475.5,420.5 482.5,422.5 489.5,423.5 496.5,427.5 503.5,426.5 510.5,421.5 517.5,390.5 524.5,400.5 531.5,409.5 538.5,418.5 545.5,408.5 552.5,411.5 559.5,398.5 566.5,367.5 573.5,373.5 580.5,377.5 587.5,368.5 594.5,372.5 601.5,367.5 608.5,405.5 615.5,391.5 622.5,399.5 629.5,395.5 637.5,401.5 644.5,407.5 651.5,392.5 658.5,371.5 665.5,396.5 672.5,401.5 679.5,417.5" fill="none" stroke="#000000" stroke-width="1"/>
<clipPath id="cp3"><rect x="39" y="475" width="717" height="92"/></clipPath>
<g clip-path="url(#cp3)" fill="none">
<polyline points="39.5,510.5 50.5,510.5 63.5,510.5 75.5,510.5 85.5,511.5 91.5,510.5 100.5,509.5 105.5,508.5 110.5,506.5 118.5,502.5 125.5,499.5 130.5,497.5 135.5,495.5 140.5,492.5 148.5,490.5 155.5,489.5 160.5,489.5 166.5,489.5 173.5,490.5 182.5,492.5 192.5,494.5 202.5,495.5 210.5,496.5 220.5,498.5 225.5,499.5 232.5,501.5 237.5,503.5 245.5,506.5 252.5,510.5 260.5,512.5 266.5,514.5 272.5,517.5 280.5,520.5 287.5,524.5 295.5,528.5 302.5,531.5 310.5,535.5 317.5,538.5 320.5,540.5 327.5,542.5 336.5,545.5 345.5,547.5 355.5,549.5 363.5,551.5 372.5,554.5 386.5,554.5 391.5,555.5 397.5,555.5 407.5,554.5 415.5,552.5 420.5,551.5 425.5,550.5 436.5,546.5 447.5,543.5 458.5,540.5 465.5,539.5 472.5,538.5 512.5,538.5 518.5,536.5 528.5,534.5 541.5,533.5 551.5,532.5 560.5,530.5 568.5,528.5 577.5,525.5 585.5,522.5 592.5,520.5 600.5,517.5 611.5,516.5 620.5,514.5 633.5,514.5 643.5,514.5 651.5,515.5 657.5,514.5 667.5,515.5 679.5,514.5" stroke="#ff0000"/>
<polyline points="43.5,511.5 48.5,511.5 53.5,509.5 59.5,508.5 65.5,509.5 70.5,511.5 75.5,512.5 80.5,513.5 86.5,512.5 91.5,510.5 96.5,508.5 101.5,504.5 108.5,499.5 114.5,493.5 120.5,488.5 125.5,484.5 131.5,482.5 137.5,481.5 142.5,482.5 146.5,483.5 152.5,483.5 157.5,485.5 163.5,488.5 171.5,492.5 178.5,496.5 185.5,498.5 192.5,499.5 203.5,499.5 210.5,501.5 217.5,502.5 225.5,504.5 228.5,504.5 231.5,506.5 235.5,510.5 238.5,513.5 245.5,516.5 251.5,520.5 257.5,522.5 262.5,523.5 268.5,526.5 276.5,530.5 283.5,533.5 290.5,538.5 296.5,543.5 302.5,546.5 308.5,550.5 315.5,551.5 320.5,551.5 325.5,550.5 328.5,550.5 336.5,553.5 345.5,555.5 353.5,556.5 362.5,558.5 368.5,559.5 372.5,559.5 383.5,558.5 390.5,556.5 397.5,554.5 405.5,551.5 412.5,549.5 415.5,548.5 423.5,546.5 435.5,540.5 441.5,538.5 447.5,535.5 453.5,532.5 456.5,532.5 462.5,533.5 471.5,535.5 485.5,536.5 492.5,537.5 506.5,537.5 510.5,537.5 515.5,534.5 520.5,532.5 528.5,530.5 533.5,530.5 537.5,531.5 541.5,531.5 545.5,530.5 552.5,530.5 558.5,528.5 562.5,525.5 567.5,521.5 572.5,519.5 578.5,516.5 585.5,513.5 590.5,511.5 596.5,508.5 601.5,507.5 602.5,507.5 608.5,510.5 616.5,510.5 620.5,511.5 626.5,513.5 633.5,513.5 643.5,516.5 651.5,516.5 656.5,513.5 660.5,512.5 662.5,512.5 667.5,513.5 672.5,514.5 675.5,515.5 678.5,519.5" stroke="#000000"/>
</g>
<text x="44.0" y="361.0" font-size="13" fill="#000" textLength="42" lengthAdjust="spacingAndGlyphs">RSI 14</text>
<text x="44.0" y="491.0" font-size="13" fill="#000" textLength="84" lengthAdjust="spacingAndGlyphs">MACD 26;12;9</text>
<rect x="757" y="98" width="4" height="1" fill="#ff0000"/><text transform="scale(0.84,1)" x="907.14 913.10 919.05 925.00 930.95 936.90" y="101.0" font-family="Liberation Sans" font-size="9.8" fill="#000" stroke="#000" stroke-width="0.25">0.7550</text>
<rect x="757" y="148" width="4" height="1" fill="#ff0000"/><text transform="scale(0.84,1)" x="907.14 913.10 919.05 925.00 930.95 936.90" y="151.0" font-family="Liberation Sans" font-size="9.8" fill="#000" stroke="#000" stroke-width="0.25">0.7500</text>
<rect x="757" y="198" width="4" height="1" fill="#ff0000"/><text transform="scale(0.84,1)" x="907.14 913.10 919.05 925.00 930.95 936.90" y="201.0" font-family="Liberation Sans" font-size="9.8" fill="#000" stroke="#000" stroke-width="0.25">0.7450</text>
<rect x="757" y="248" width="4" height="1" fill="#ff0000"/><text transform="scale(0.84,1)" x="907.14 913.10 919.05 925.00 930.95 936.90" y="251.0" font-family="Liberation Sans" font-size="9.8" fill="#000" stroke="#000" stroke-width="0.25">0.7400</text>
<rect x="757" y="302" width="4" height="1" fill="#ff0000"/><text transform="scale(0.84,1)" x="907.14 913.10 919.05 925.00 930.95 936.90" y="305.0" font-family="Liberation Sans" font-size="9.8" fill="#ff0000" stroke="#ff0000" stroke-width="0.25">0.7347</text>
<rect x="757" y="362" width="4" height="1" fill="#ff0000"/><text transform="scale(0.84,1)" x="907.14 913.10 919.05 925.00 930.95 936.90 942.86" y="365.0" font-family="Liberation Sans" font-size="9.8" fill="#000" stroke="#000" stroke-width="0.25">60.0000</text>
<rect x="757" y="376" width="4" height="1" fill="#ff0000"/><text transform="scale(0.84,1)" x="907.14 913.10 919.05 925.00 930.95 936.90 942.86" y="379.0" font-family="Liberation Sans" font-size="9.8" fill="#000" stroke="#000" stroke-width="0.25">55.0000</text>
<rect x="757" y="389" width="4" height="1" fill="#ff0000"/><text transform="scale(0.84,1)" x="907.14 913.10 919.05 925.00 930.95 936.90 942.86" y="392.0" font-family="Liberation Sans" font-size="9.8" fill="#000" stroke="#000" stroke-width="0.25">50.0000</text>
<rect x="757" y="402" width="4" height="1" fill="#ff0000"/><text transform="scale(0.84,1)" x="907.14 913.10 919.05 925.00 930.95 936.90 942.86" y="405.0" font-family="Liberation Sans" font-size="9.8" fill="#000" stroke="#000" stroke-width="0.25">45.0000</text>
<rect x="757" y="443" width="4" height="1" fill="#ff0000"/><text transform="scale(0.84,1)" x="907.14 913.10 919.05 925.00 930.95 936.90 942.86" y="446.0" font-family="Liberation Sans" font-size="9.8" fill="#000" stroke="#000" stroke-width="0.25">30.0000</text>
<rect x="757" y="456" width="4" height="1" fill="#ff0000"/><text transform="scale(0.84,1)" x="907.14 913.10 919.05 925.00 930.95 936.90 942.86" y="459.0" font-family="Liberation Sans" font-size="9.8" fill="#000" stroke="#000" stroke-width="0.25">25.0000</text>
<rect x="757" y="418" width="4" height="1" fill="#ff0000"/><text transform="scale(0.84,1)" x="907.14 913.10 919.05 925.00 930.95 936.90 942.86 948.81" y="421.0" font-family="Liberation Sans" font-size="9.8" fill="#ff0000" stroke="#ff0000" stroke-width="0.25">39.12204</text>
<rect x="757" y="495" width="4" height="1" fill="#ff0000"/><text transform="scale(0.84,1)" x="907.14 913.10 919.05 925.00 930.95 936.90" y="498.0" font-family="Liberation Sans" font-size="9.8" fill="#000" stroke="#000" stroke-width="0.25">0.0010</text>
<rect x="757" y="542" width="4" height="1" fill="#ff0000"/><rect x="762" y="542" width="4" height="1" fill="#000"/><text transform="scale(0.84,1)" x="913.10 919.05 925.00 930.95 936.90 942.86" y="545.0" font-family="Liberation Sans" font-size="9.8" fill="#000" stroke="#000" stroke-width="0.25">0.0020</text>
<rect x="757" y="558" width="4" height="1" fill="#ff0000"/><rect x="762" y="558" width="4" height="1" fill="#000"/><text transform="scale(0.84,1)" x="913.10 919.05 925.00 930.95 936.90 942.86" y="561.0" font-family="Liberation Sans" font-size="9.8" fill="#000" stroke="#000" stroke-width="0.25">0.0030</text>
<rect x="757" y="521" width="4" height="1" fill="#ff0000"/><rect x="762" y="521" width="4" height="1" fill="#ff0000"/><text transform="scale(0.84,1)" x="913.10 919.05 925.00 930.95 936.90 942.86 948.81" y="524.0" font-family="Liberation Sans" font-size="9.8" fill="#ff0000" stroke="#ff0000" stroke-width="0.25">0.00062</text>
<rect x="60" y="307" width="1" height="5" fill="#ff0000"/>
<text transform="scale(0.84,1)" x="65.48 71.43" y="323.0" font-family="Liberation Sans" font-size="9.8" fill="#000" stroke="#000" stroke-width="0.25">30</text>
<rect x="102" y="307" width="1" height="5" fill="#ff0000"/>
<text transform="scale(0.84,1)" x="115.48 121.43" y="323.0" font-family="Liberation Sans" font-size="9.8" fill="#000" stroke="#000" stroke-width="0.25">31</text>
<rect x="144" y="307" width="1" height="5" fill="#ff0000"/>
<text transform="scale(0.84,1)" x="165.48 171.43" y="323.0" font-family="Liberation Sans" font-size="9.8" fill="#000" stroke="#000" stroke-width="0.25">01</text>
<rect x="187" y="307" width="1" height="5" fill="#ff0000"/>
<text transform="scale(0.84,1)" x="216.67 222.62" y="323.0" font-family="Liberation Sans" font-size="9.8" fill="#000" stroke="#000" stroke-width="0.25">02</text>
<rect x="229" y="307" width="1" height="5" fill="#ff0000"/>
<text transform="scale(0.84,1)" x="266.67 272.62" y="323.0" font-family="Liberation Sans" font-size="9.8" fill="#000" stroke="#000" stroke-width="0.25">03</text>
<rect x="255" y="307" width="1" height="5" fill="#ff0000"/>
<text transform="scale(0.84,1)" x="297.62 303.57" y="323.0" font-family="Liberation Sans" font-size="9.8" fill="#000" stroke="#000" stroke-width="0.25">05</text>
<rect x="285" y="307" width="1" height="5" fill="#ff0000"/>
<text transform="scale(0.84,1)" x="333.33 339.29" y="323.0" font-family="Liberation Sans" font-size="9.8" fill="#000" stroke="#000" stroke-width="0.25">06</text>
<rect x="327" y="307" width="1" height="5" fill="#ff0000"/>
<text transform="scale(0.84,1)" x="383.33 389.29" y="323.0" font-family="Liberation Sans" font-size="9.8" fill="#000" stroke="#000" stroke-width="0.25">07</text>
<rect x="369" y="307" width="1" height="5" fill="#ff0000"/>
<text transform="scale(0.84,1)" x="433.33 439.29" y="323.0" font-family="Liberation Sans" font-size="9.8" fill="#000" stroke="#000" stroke-width="0.25">08</text>
<rect x="412" y="307" width="1" height="5" fill="#ff0000"/>
<text transform="scale(0.84,1)" x="484.52 490.48" y="323.0" font-family="Liberation Sans" font-size="9.8" fill="#000" stroke="#000" stroke-width="0.25">09</text>
<rect x="454" y="307" width="1" height="5" fill="#ff0000"/>
<text transform="scale(0.84,1)" x="534.52 540.48" y="323.0" font-family="Liberation Sans" font-size="9.8" fill="#000" stroke="#000" stroke-width="0.25">10</text>
<rect x="480" y="307" width="1" height="5" fill="#ff0000"/>
<text transform="scale(0.84,1)" x="565.48 571.43" y="323.0" font-family="Liberation Sans" font-size="9.8" fill="#000" stroke="#000" stroke-width="0.25">12</text>
<rect x="510" y="307" width="1" height="5" fill="#ff0000"/>
<text transform="scale(0.84,1)" x="601.19 607.14" y="323.0" font-family="Liberation Sans" font-size="9.8" fill="#000" stroke="#000" stroke-width="0.25">13</text>
<rect x="552" y="307" width="1" height="5" fill="#ff0000"/>
<text transform="scale(0.84,1)" x="651.19 657.14" y="323.0" font-family="Liberation Sans" font-size="9.8" fill="#000" stroke="#000" stroke-width="0.25">14</text>
<rect x="594" y="307" width="1" height="5" fill="#ff0000"/>
<text transform="scale(0.84,1)" x="701.19 707.14" y="323.0" font-family="Liberation Sans" font-size="9.8" fill="#000" stroke="#000" stroke-width="0.25">15</text>
<rect x="637" y="307" width="1" height="5" fill="#ff0000"/>
<text transform="scale(0.84,1)" x="752.38 758.33" y="323.0" font-family="Liberation Sans" font-size="9.8" fill="#000" stroke="#000" stroke-width="0.25">16</text>
<rect x="679" y="307" width="1" height="5" fill="#ff0000"/>
<text transform="scale(0.84,1)" x="802.38 808.33" y="323.0" font-family="Liberation Sans" font-size="9.8" fill="#000" stroke="#000" stroke-width="0.25">17</text>
<rect x="721" y="307" width="1" height="5" fill="#ff0000"/>
<text transform="scale(0.84,1)" x="852.38 858.33" y="323.0" font-family="Liberation Sans" font-size="9.8" fill="#000" stroke="#000" stroke-width="0.25">18</text>
<text transform="scale(0.84,1)" x="147.62 153.57 160.60 165.48 171.43 178.45 183.33 189.29" y="334.0" font-family="Liberation Sans" font-size="9.8" fill="#000" stroke="#000" stroke-width="0.25">02/01/06</text>
<rect x="0" y="570" width="800" height="30" fill="url(#tb)"/>
<rect x="0" y="570" width="800" height="1" fill="#d4d0c8"/><rect x="0" y="571" width="800" height="1" fill="#ffffff"/>
<rect x="2" y="574" width="47" height="1" fill="#ffffff"/><rect x="2" y="574" width="1" height="22" fill="#ffffff"/><rect x="2" y="595" width="47" height="1" fill="#202020"/><rect x="48" y="574" width="1" height="22" fill="#202020"/><rect x="3" y="594" width="45" height="1" fill="#808080"/><rect x="47" y="575" width="1" height="20" fill="#808080"/>
<g shape-rendering="auto"><path d="M6 578 q3-1.5 6.5 0 v6 q-3.5-1.5-6.5 0z" fill="#f05a22"/><path d="M13 578.5 q3 1.5 6 0 v6 q-3 1.5-6 0z" fill="#5cb82c"/><path d="M5.5 585 q3-1.5 6.5 0 v6 q-3.5-1.5-6.5 0z" fill="#2d6fe8"/><path d="M12.5 585.5 q3 1.5 6 0 v5.5 q-3 1.5-6 0z" fill="#f8c010"/></g>
<g stroke="#000" stroke-width="1" fill="none"><path d="M23 580.5h9M22 584.5h11M25.5 580v4.5q0 3.5-2.5 5.5M29.5 580v10.5"/><path d="M35.5 579v3q-0.5 3-1.5 5M34 583.5h4.5M38 582.5q-0.5 4.5-3.5 7.5M35 585.5l3.5 4"/><path d="M41.5 579l-2 4h5M43.5 581.5l1 1.5M40.5 585.5h4v4h-4z"/></g>
<g transform="translate(57,577.5) scale(0.95)" shape-rendering="auto"><ellipse cx="8" cy="8.5" rx="8" ry="3.2" transform="rotate(-35 8 8.5)" fill="none" stroke="#60b8f0" stroke-width="1.2"/><path d="M3.2 8.2 H12.6 A4.8 4.8 0 1 0 11.4 11.6" fill="none" stroke="#2d96e0" stroke-width="2.4"/></g>
<rect x="81" y="578.5" width="13" height="13" fill="#2268d0" stroke="#1040a0" rx="2" shape-rendering="auto"/><rect x="83.5" y="580.5" width="8" height="9" fill="#ffffff" rx="1" shape-rendering="auto"/><path d="M86 582v6l1.5-1.5l1.5 2" stroke="#000" fill="none"/><circle cx="93.5" cy="580" r="1.3" fill="#e05010" shape-rendering="auto"/>
<rect x="104" y="574" width="69" height="1" fill="#ffffff"/><rect x="104" y="574" width="1" height="22" fill="#ffffff"/><rect x="104" y="595" width="69" height="1" fill="#202020"/><rect x="172" y="574" width="1" height="22" fill="#202020"/><rect x="105" y="594" width="67" height="1" fill="#808080"/><rect x="171" y="575" width="1" height="20" fill="#808080"/>
<path d="M112.5 577.5 h7 l3 3 v11 h-10 z" fill="#ffffff" stroke="#707070"/><path d="M119.5 577.5 v3 h3" fill="#e0e0e0" stroke="#707070"/>
<g transform="translate(107.5,579) scale(0.7)" shape-rendering="auto"><ellipse cx="8" cy="8.5" rx="8" ry="3.2" transform="rotate(-35 8 8.5)" fill="none" stroke="#e0b020" stroke-width="1.2"/><path d="M3.2 8.2 H12.6 A4.8 4.8 0 1 0 11.4 11.6" fill="none" stroke="#1a5ed0" stroke-width="2.4"/></g>
<text x="127" y="588.5" font-family="Liberation Sans" font-size="11.5" fill="#000">http:/...</text>
<rect x="175" y="574" width="69" height="1" fill="#ffffff"/><rect x="175" y="574" width="1" height="22" fill="#ffffff"/><rect x="175" y="595" width="69" height="1" fill="#202020"/><rect x="243" y="574" width="1" height="22" fill="#202020"/><rect x="176" y="594" width="67" height="1" fill="#808080"/><rect x="242" y="575" width="1" height="20" fill="#808080"/>
<path d="M183.5 577.5 h7 l3 3 v11 h-10 z" fill="#ffffff" stroke="#707070"/><path d="M190.5 577.5 v3 h3" fill="#e0e0e0" stroke="#707070"/>
<g transform="translate(178.5,579) scale(0.7)" shape-rendering="auto"><ellipse cx="8" cy="8.5" rx="8" ry="3.2" transform="rotate(-35 8 8.5)" fill="none" stroke="#e0b020" stroke-width="1.2"/><path d="M3.2 8.2 H12.6 A4.8 4.8 0 1 0 11.4 11.6" fill="none" stroke="#1a5ed0" stroke-width="2.4"/></g>
<text x="198" y="588.5" font-family="Liberation Sans" font-size="11.5" fill="#000">https...</text>
<rect x="246" y="574" width="69" height="1" fill="#ffffff"/><rect x="246" y="574" width="1" height="22" fill="#ffffff"/><rect x="246" y="595" width="69" height="1" fill="#202020"/><rect x="314" y="574" width="1" height="22" fill="#202020"/><rect x="247" y="594" width="67" height="1" fill="#808080"/><rect x="313" y="575" width="1" height="20" fill="#808080"/>
<path d="M254.5 577.5 h7 l3 3 v11 h-10 z" fill="#ffffff" stroke="#707070"/><path d="M261.5 577.5 v3 h3" fill="#e0e0e0" stroke="#707070"/>
<g transform="translate(249.5,579) scale(0.7)" shape-rendering="auto"><ellipse cx="8" cy="8.5" rx="8" ry="3.2" transform="rotate(-35 8 8.5)" fill="none" stroke="#e0b020" stroke-width="1.2"/><path d="M3.2 8.2 H12.6 A4.8 4.8 0 1 0 11.4 11.6" fill="none" stroke="#1a5ed0" stroke-width="2.4"/></g>
<text x="269" y="588.5" font-family="Liberation Sans" font-size="11.5" fill="#000">http:/...</text>
<rect x="317" y="574" width="69" height="1" fill="#ffffff"/><rect x="317" y="574" width="1" height="22" fill="#ffffff"/><rect x="317" y="595" width="69" height="1" fill="#202020"/><rect x="385" y="574" width="1" height="22" fill="#202020"/><rect x="318" y="594" width="67" height="1" fill="#808080"/><rect x="384" y="575" width="1" height="20" fill="#808080"/>
<path d="M325.5 577.5 h7 l3 3 v11 h-10 z" fill="#ffffff" stroke="#707070"/><path d="M332.5 577.5 v3 h3" fill="#e0e0e0" stroke="#707070"/>
<g transform="translate(320.5,579) scale(0.7)" shape-rendering="auto"><ellipse cx="8" cy="8.5" rx="8" ry="3.2" transform="rotate(-35 8 8.5)" fill="none" stroke="#e0b020" stroke-width="1.2"/><path d="M3.2 8.2 H12.6 A4.8 4.8 0 1 0 11.4 11.6" fill="none" stroke="#1a5ed0" stroke-width="2.4"/></g>
<text x="340" y="588.5" font-family="Liberation Sans" font-size="11.5" fill="#000">http:/...</text>
<rect x="388" y="574" width="69" height="22" fill="url(#pz)"/><rect x="388" y="574" width="69" height="1" fill="#202020"/><rect x="388" y="574" width="1" height="22" fill="#202020"/><rect x="389" y="575" width="67" height="1" fill="#808080"/><rect x="389" y="575" width="1" height="20" fill="#808080"/><rect x="388" y="595" width="69" height="1" fill="#ffffff"/><rect x="456" y="574" width="1" height="22" fill="#ffffff"/>
<g transform="translate(393,578) scale(0.95)" shape-rendering="auto"><ellipse cx="8" cy="8.5" rx="8" ry="3.2" transform="rotate(-35 8 8.5)" fill="none" stroke="#60b8f0" stroke-width="1.2"/><path d="M3.2 8.2 H12.6 A4.8 4.8 0 1 0 11.4 11.6" fill="none" stroke="#2d96e0" stroke-width="2.4"/></g>
<text x="413" y="590" font-family="Liberation Sans" font-size="11.5" fill="#000">Chart...</text>
<rect x="459" y="574" width="69" height="1" fill="#ffffff"/><rect x="459" y="574" width="1" height="22" fill="#ffffff"/><rect x="459" y="595" width="69" height="1" fill="#202020"/><rect x="527" y="574" width="1" height="22" fill="#202020"/><rect x="460" y="594" width="67" height="1" fill="#808080"/><rect x="526" y="575" width="1" height="20" fill="#808080"/>
<path d="M467.5 577.5 h7 l3 3 v11 h-10 z" fill="#ffffff" stroke="#707070"/><path d="M474.5 577.5 v3 h3" fill="#e0e0e0" stroke="#707070"/>
<g transform="translate(462.5,579) scale(0.7)" shape-rendering="auto"><ellipse cx="8" cy="8.5" rx="8" ry="3.2" transform="rotate(-35 8 8.5)" fill="none" stroke="#e0b020" stroke-width="1.2"/><path d="M3.2 8.2 H12.6 A4.8 4.8 0 1 0 11.4 11.6" fill="none" stroke="#1a5ed0" stroke-width="2.4"/></g>
<text x="482" y="588.5" font-family="Liberation Sans" font-size="11.5" fill="#000">http:/...</text>
<rect x="530" y="574" width="69" height="22" fill="#0c1e6a"/>
<g shape-rendering="auto"><circle cx="539" cy="582" r="3.2" fill="#602018"/><circle cx="545" cy="583" r="3.2" fill="#803020"/><path d="M535 592 l2-7 h4 l2 7z" fill="#f0c040"/><path d="M542 592 l2-6 h3 l2 6z" fill="#f8d060"/><rect x="535" y="588" width="16" height="4" fill="#e03010"/><circle cx="547" cy="589" r="2.5" fill="#e02020" stroke="#fff" stroke-width="0.8"/></g>
<g stroke="#ffffff" stroke-width="1" fill="none"><path d="M555.5 580.5l1.5 1M555.0 583.5l1.5 1M555.0 590l2-3.5"/><path d="M559.0 580.5h7M559.5 580.5v9.5M559.0 589.5h7.5"/></g>
<g stroke="#ffffff" stroke-width="1" fill="none"><path d="M567.5 580.5l1.5 1M567.0 583.5l1.5 1M567.0 590l2-3.5"/><path d="M572.5 579l-1.5 3M572.0 580.5h7M571.5 582.5h5.5v7h-6zM570.0 585.5h9M574.5 583v6.5"/></g>
<text x="580" y="589" font-family="Liberation Sans" font-size="11.5" fill="#ffffff">...</text>
<rect x="601" y="574" width="69" height="1" fill="#ffffff"/><rect x="601" y="574" width="1" height="22" fill="#ffffff"/><rect x="601" y="595" width="69" height="1" fill="#202020"/><rect x="669" y="574" width="1" height="22" fill="#202020"/><rect x="602" y="594" width="67" height="1" fill="#808080"/><rect x="668" y="575" width="1" height="20" fill="#808080"/>
<path d="M609.5 577.5 h7 l3 3 v11 h-10 z" fill="#ffffff" stroke="#707070"/><path d="M616.5 577.5 v3 h3" fill="#e0e0e0" stroke="#707070"/>
<g transform="translate(604.5,579) scale(0.7)" shape-rendering="auto"><ellipse cx="8" cy="8.5" rx="8" ry="3.2" transform="rotate(-35 8 8.5)" fill="none" stroke="#e0b020" stroke-width="1.2"/><path d="M3.2 8.2 H12.6 A4.8 4.8 0 1 0 11.4 11.6" fill="none" stroke="#1a5ed0" stroke-width="2.4"/></g>
<text x="624" y="588.5" font-family="Liberation Sans" font-size="11.5" fill="#000">http:/...</text>
<rect x="703" y="574" width="97" height="1" fill="#808080"/><rect x="703" y="574" width="1" height="22" fill="#808080"/><rect x="703" y="595" width="97" height="1" fill="#ffffff"/>
<rect x="683.5" y="584.5" width="15" height="8" fill="#ffffff" stroke="#000"/><path d="M685 587h12M685 589h12M686 591h10" stroke="#000" stroke-dasharray="1,1" fill="none"/><path d="M687.5 584v-2.5h7" stroke="#000" fill="none"/>
<text x="707" y="590.5" font-family="Liberation Sans" font-weight="bold" font-size="12" fill="#000">«</text>
<g shape-rendering="auto"><ellipse cx="728.5" cy="585" rx="5.5" ry="7" fill="#101010"/><ellipse cx="728.5" cy="588" rx="3.8" ry="4.5" fill="#ffffff"/><rect x="723.5" y="585" width="10" height="2.5" fill="#e00000"/><rect x="729" y="587" width="2" height="4" fill="#e00000"/><ellipse cx="725" cy="593.5" rx="3" ry="1.5" fill="#f0a000"/><ellipse cx="732" cy="593.5" rx="3" ry="1.5" fill="#f0a000"/><circle cx="727" cy="581" r="1" fill="#fff"/><circle cx="730.5" cy="581" r="1" fill="#fff"/><ellipse cx="728.7" cy="583.3" rx="2" ry="1" fill="#f0b000"/></g>
<rect x="739.5" y="582.5" width="8" height="8" fill="#a8d0f8" stroke="#3070c0"/><rect x="745.5" y="578.5" width="8" height="8" fill="#a8d0f8" stroke="#3070c0"/><rect x="740" y="591" width="8" height="2" fill="#909090"/><rect x="746" y="587" width="8" height="2" fill="#909090"/>
<text x="762.5" y="590" font-family="Liberation Sans" font-size="11.5" fill="#000">19:57</text>
</svg></body></html>
